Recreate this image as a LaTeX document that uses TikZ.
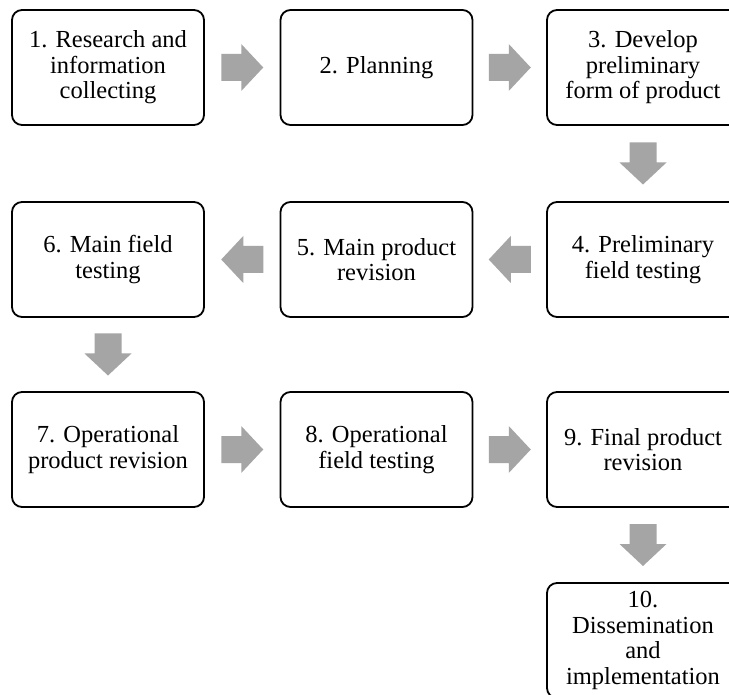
\documentclass[tikz,border=0pt]{standalone}
\usepackage{fontspec}
\setmainfont{Liberation Serif}
\usetikzlibrary{calc}
\definecolor{arrowgray}{HTML}{A5A5A5}
\tikzset{
  stepbox/.style={draw=black, line width=1.8pt, rounded corners=10pt,
    minimum width=192pt, minimum height=115pt, align=center, inner sep=0pt,
    font=\fontsize{24.5}{25.5}\selectfont, fill=white},
  blockarrow/.style={fill=arrowgray, draw=none}
}
\newcommand\flowarrow[3]{%
  \fill[blockarrow, shift={($(#1)!0.5!(#2)$)}, rotate=#3]
    (-21,-13.5) -- (-1,-13.5) -- (-1,-23.5) -- (21,0) -- (-1,23.5)
    -- (-1,13.5) -- (-21,13.5) -- cycle;}
\begin{document}
\begin{tikzpicture}[x=1pt, y=-1pt]
  \clip (0,0) rectangle (729,695);
  \fill[white] (0,0) rectangle (729,695);
  % row 1
  \node[stepbox] (b1) at (108,67.5) {1. Research and\\information\\collecting};
  \node[stepbox] (b2) at (376.5,67.5) {2. Planning};
  \node[stepbox] (b3) at (643,67.5) {3. Develop\\preliminary\\form of product};
  % row 2
  \node[stepbox] (b6) at (108,259.5) {6. Main field\\testing};
  \node[stepbox] (b5) at (376.5,259.5) {5. Main product\\revision};
  \node[stepbox] (b4) at (643,259.5) {4. Preliminary\\field testing};
  % row 3
  \node[stepbox] (b7) at (108,449.5) {7. Operational\\product revision};
  \node[stepbox] (b8) at (376.5,449.5) {8. Operational\\field testing};
  \node[stepbox] (b9) at (643,449.5) {9. Final product\\revision};
  % row 4
  \node[stepbox] (b10) at (643,640.5) {10.\\Dissemination\\and\\implementation};
  % arrows
  \flowarrow{b1.east}{b2.west}{0}
  \flowarrow{b2.east}{b3.west}{0}
  \flowarrow{b3.south}{b4.north}{-90}
  \flowarrow{b4.west}{b5.east}{180}
  \flowarrow{b5.west}{b6.east}{180}
  \flowarrow{b6.south}{b7.north}{-90}
  \flowarrow{b7.east}{b8.west}{0}
  \flowarrow{b8.east}{b9.west}{0}
  \flowarrow{b9.south}{b10.north}{-90}
\end{tikzpicture}
\end{document}
